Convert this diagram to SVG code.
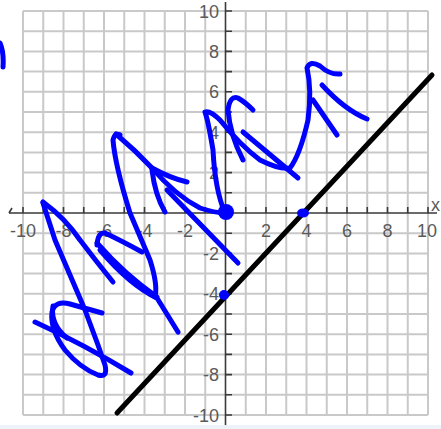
<svg xmlns="http://www.w3.org/2000/svg" width="441" height="429" viewBox="0 0 441 429">
<style>
.grid{fill:none;stroke:#c9c9c9;stroke-width:2}
.axis{fill:none;stroke:#3a3a3a;stroke-width:1.6}
.lbl{font-family:"Liberation Sans",Arial,sans-serif;font-size:18px;fill:#5a5a5a}
.ink{fill:none;stroke:#0000ff;stroke-width:5;stroke-linecap:round;stroke-linejoin:round}
.dot{fill:#0000ff}
</style>
<rect width="441" height="429" fill="#ffffff"/>
<rect x="0" y="425" width="441" height="4" fill="#eef3f9"/>
<g id="grid">
<path class="grid" d="M23,11V415M43.25,11V415M63.5,11V415M83.75,11V415M104,11V415M124.25,11V415M144.5,11V415M164.75,11V415M185,11V415M205.25,11V415M245.75,11V415M266,11V415M286.25,11V415M306.5,11V415M326.75,11V415M347,11V415M367.25,11V415M387.5,11V415M407.75,11V415M428,11V415
M23,11H428M23,31.2H428M23,51.4H428M23,71.6H428M23,91.8H428M23,112H428M23,132.2H428M23,152.4H428M23,172.6H428M23,192.8H428M23,233.2H428M23,253.4H428M23,273.6H428M23,293.8H428M23,314H428M23,334.2H428M23,354.4H428M23,374.6H428M23,394.8H428M23,415H428"/>
</g>
<g id="axes">
<path class="axis" d="M9,213H437M225.5,2V425"/>
<path class="axis" d="M12,208L9,213M23,207V213M43.25,207V213M63.5,207V213M83.75,207V213M104,207V213M124.25,207V213M144.5,207V213M164.75,207V213M185,207V213M205.25,207V213M245.75,207V213M266,207V213M286.25,207V213M306.5,207V213M326.75,207V213M347,207V213M367.25,207V213M387.5,207V213M407.75,207V213M428,207V213
M225.5,11H232M225.5,31.2H232M225.5,51.4H232M225.5,71.6H232M225.5,91.8H232M225.5,112H232M225.5,132.2H232M225.5,152.4H232M225.5,172.6H232M225.5,192.8H232M225.5,233.2H232M225.5,253.4H232M225.5,273.6H232M225.5,293.8H232M225.5,314H232M225.5,334.2H232M225.5,354.4H232M225.5,374.6H232M225.5,394.8H232M225.5,415H232"/>
<g class="lbl" text-anchor="middle">
<text x="23" y="237">-10</text>
<text x="63.5" y="237">-8</text>
<text x="104" y="237">-6</text>
<text x="144.5" y="237">-4</text>
<text x="185" y="237">-2</text>
<text x="266" y="237">2</text>
<text x="306.5" y="237">4</text>
<text x="347" y="237">6</text>
<text x="387.5" y="237">8</text>
<text x="427" y="237">10</text>
</g>
<g class="lbl" text-anchor="end">
<text x="219" y="17.5">10</text>
<text x="219" y="57.9">8</text>
<text x="219" y="98.3">6</text>
<text x="219" y="138.7">4</text>
<text x="219" y="179.1">2</text>
<text x="219" y="259.9">-2</text>
<text x="219" y="300.3">-4</text>
<text x="219" y="340.7">-6</text>
<text x="219" y="381.1">-8</text>
<text x="219" y="421.5">-10</text>
</g>
<text class="lbl" x="431" y="211" font-size="8">x</text>
</g>
<g id="line">
<path d="M117,413L432,75" stroke="#000" stroke-width="5" stroke-linecap="round" fill="none"/>
</g>
<g id="scribbles">
<path class="ink" d="M0,43Q4,52 3,67"/>
<path class="ink" d="M43,203L55,240L70,275L85,310L98,345L105,365Q108,378 98,375Q80,368 65,350Q50,330 52,312Q55,300 70,304L102,313"/>
<path class="ink" d="M53,306Q50,324 67,338"/>
<path class="ink" d="M35,322Q85,345 131,373"/>
<path class="ink" d="M43,202Q65,218 80,240L97,262L113,282"/>
<path class="ink" d="M97,245Q98,232 105,233Q120,240 142,252"/>
<path class="ink" d="M97,243Q125,275 157,297M100,250Q130,285 157,298L178,332"/>
<path class="ink" d="M155,297Q158,285 150,260L130,213Q115,165 113,140Q115,132 120,135"/>
<path class="ink" d="M116,134Q135,150 152,168Q175,195 200,208Q215,213 225,213"/>
<path class="ink" d="M152,168Q170,178 187,182"/>
<path class="ink" d="M152,170Q155,195 165,212"/>
<path class="ink" d="M167,190L238,263"/>
<path class="ink" d="M225,213Q215,190 213,150Q208,120 205,112Q210,110 220,120Q240,145 260,160Q280,170 290,168Q300,155 308,120Q312,90 307,68Q310,60 320,66Q330,75 340,74"/>
<path class="ink" d="M243,160Q230,135 228,110Q230,95 238,98Q245,102 253,110"/>
<path class="ink" d="M243,132L298,178"/>
<path class="ink" d="M313,100L337,135"/>
<path class="ink" d="M322,85Q345,110 367,119"/>
</g>
<g id="dots">
<circle class="dot" cx="226" cy="212" r="8"/>
<ellipse class="dot" cx="303" cy="213" rx="6" ry="4.5"/>
<circle class="dot" cx="224" cy="295" r="5"/>
</g>
</svg>
